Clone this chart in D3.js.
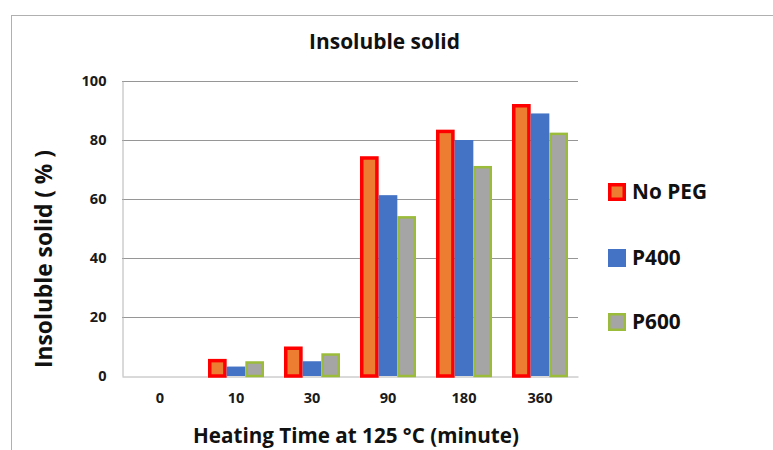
<!DOCTYPE html>
<html><head><meta charset="utf-8">
<script src="https://cdn.jsdelivr.net/npm/d3@7"></script>
<style>body{margin:0;background:#fff;} svg{display:block;font-family:"Open Sans",sans-serif;}</style>
</head><body><svg id="c" width="773" height="450"></svg>
<script>
const categories = ["0","10","30","90","180","360"];
const seriesNames = ["No PEG","P400","P600"];
const noPEG = [0, 5.8, 10, 74.5, 83.5, 92.2];
const p400  = [0, 3.2, 5, 61.3, 80, 89];
const p600  = [0, 5, 7.7, 54.2, 71.2, 82.5];
const yTicks = [0, 20, 40, 60, 80, 100];
const title = "Insoluble solid";
const xTitle = "Heating Time at 125 \u00B0C (minute)";
const yTitle = "Insoluble solid ( % )";

const seriesVals = [noPEG, p400, p600];
const fills = ["#ED7D31", "#4472C4", "#A5A5A5"];
const strokes = ["#FF0000", "none", "#9BBB3B"];
const strokeW = [3.5, 0, 2.5];

function fit(sel, target){
  const n = sel.node();
  const fs = parseFloat(sel.attr("font-size"));
  const w = n.getComputedTextLength();
  const nf = fs*target/w;
  sel.attr("font-size", nf);
  return nf;
}

const svg = d3.select("#c");
// outer frame
svg.append("line").attr("x1",11).attr("x2",773).attr("y1",15.5).attr("y2",15.5).attr("stroke","#b0b0b0");
svg.append("line").attr("x1",11.5).attr("x2",11.5).attr("y1",15).attr("y2",450).attr("stroke","#b0b0b0");

const L=122, R=578, T=81, B=376;
const x = d3.scaleBand().domain(categories).range([L,R]).paddingInner(0.263).paddingOuter(0.1315);
const xs = d3.scaleBand().domain(seriesNames).range([0,x.bandwidth()]);
const y = d3.scaleLinear().domain([0,100]).range([B,T]);

// gridlines
svg.append("g").selectAll("line").data(yTicks.filter(d=>d>0)).join("line")
  .attr("x1",L).attr("x2",R).attr("y1",d=>Math.round(y(d))+0.5).attr("y2",d=>Math.round(y(d))+0.5)
  .attr("stroke","#969696").attr("stroke-width",1);

// y axis
const ya = svg.append("g").attr("transform",`translate(${L+0.5},0)`)
  .call(d3.axisLeft(y).tickValues(yTicks).tickSize(0).tickPadding(16));
ya.select(".domain").attr("stroke","#b4b4b4");
ya.selectAll("text").attr("font-size",13).attr("font-weight","bold").attr("fill","#1a1a1a").attr("font-family","'Open Sans',sans-serif");
const tf = fit(ya.selectAll("text").filter(d=>d===100), 25);
ya.selectAll("text").attr("font-size",tf);

// x axis
const xa = svg.append("g").attr("transform",`translate(0,${B+0.5})`)
  .call(d3.axisBottom(x).tickSize(0).tickPadding(16));
xa.select(".domain").attr("stroke","#b4b4b4");
xa.selectAll("text").attr("font-size",tf).attr("font-weight","bold").attr("fill","#1a1a1a").attr("font-family","'Open Sans',sans-serif");

// bars
seriesNames.forEach((s,i)=>{
  const sw = strokeW[i];
  svg.append("g").selectAll("rect").data(categories.map((c,j)=>({c,v:seriesVals[i][j]})).filter(d=>d.v>0)).join("rect")
    .attr("x",d=>x(d.c)+xs(s)+sw/2)
    .attr("width",xs.bandwidth()-sw)
    .attr("y",d=>y(d.v)+sw/2)
    .attr("height",d=>Math.max(0,B-y(d.v)-sw/2))
    .attr("fill",fills[i])
    .attr("stroke",strokes[i])
    .attr("stroke-width",sw);
});

// title
fit(svg.append("text").attr("x",384.5).attr("y",49).attr("text-anchor","middle")
  .attr("font-size",18).attr("font-weight","bold").attr("fill","#111").text(title), 151);
// x title
fit(svg.append("text").attr("x",356).attr("y",443).attr("text-anchor","middle")
  .attr("font-size",20).attr("font-weight","bold").attr("fill","#111").text(xTitle), 326);
// y title
fit(svg.append("text").attr("transform","translate(52,259) rotate(-90)").attr("text-anchor","middle")
  .attr("font-size",20).attr("font-weight","bold").attr("fill","#111").text(yTitle), 218);

// legend
const ly = [192, 258, 322];
let lf = null;
seriesNames.forEach((s,i)=>{
  const g = svg.append("g").attr("transform",`translate(608,${ly[i]})`);
  const sw = i===1?0:(i===0?3.5:2.5);
  g.append("rect").attr("x",sw/2).attr("y",-9+sw/2).attr("width",18-sw).attr("height",18-sw)
    .attr("fill",fills[i]).attr("stroke",strokes[i]).attr("stroke-width",sw);
  const t = g.append("text").attr("x",24).attr("y",7).attr("font-size",19).attr("font-weight","bold").attr("fill","#111").text(s);
  if(i===0) lf = fit(t, 75); else t.attr("font-size", lf);
});
</script></body></html>
